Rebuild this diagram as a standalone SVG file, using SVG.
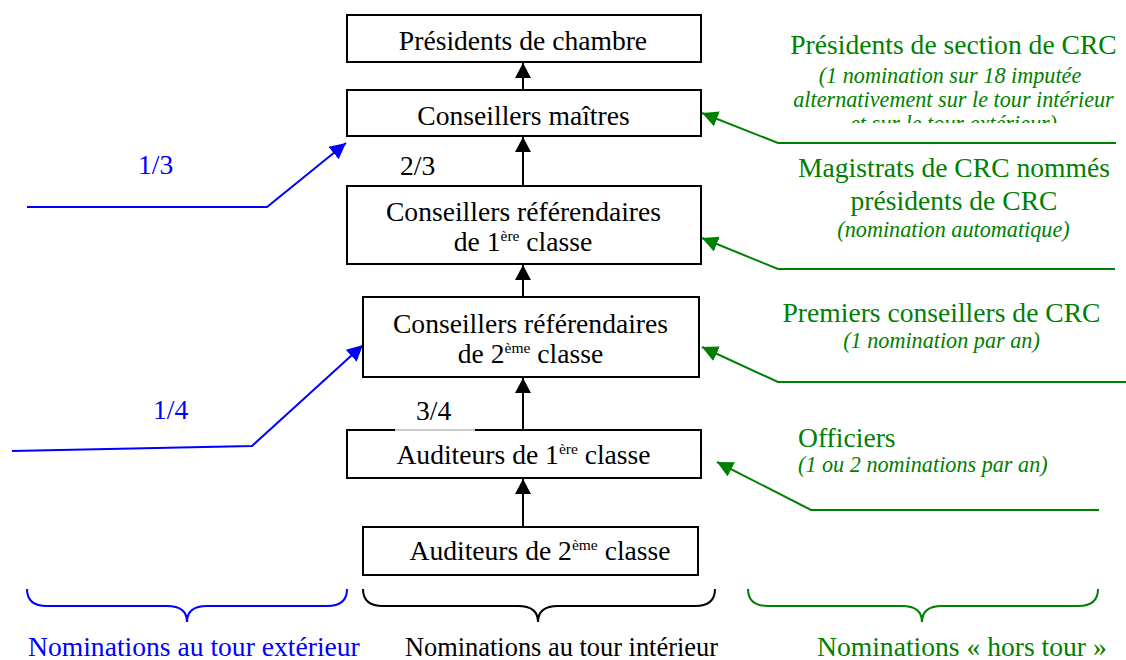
<svg xmlns="http://www.w3.org/2000/svg" width="1126" height="660" viewBox="0 0 1126 660">
<style>
text{font-family:"Liberation Serif","Times New Roman",serif;font-size:27.6px}
.k{fill:#000}
.b{fill:#0000ff}
.g{fill:#008000}
.it{font-style:italic;font-size:22.2px}
.sup{font-size:15.5px}
.box{fill:#fff;stroke:#000;stroke-width:2}
.ln{fill:none;stroke-width:2}
.mid{text-anchor:middle}
</style>
<defs>
<marker id="ak" markerUnits="userSpaceOnUse" markerWidth="16" markerHeight="16" refX="15" refY="8" orient="auto"><path d="M0,0 L15,8 L0,16 z" fill="#000"/></marker>
<marker id="ab" markerUnits="userSpaceOnUse" markerWidth="18" markerHeight="16" refX="16" refY="8" orient="auto"><path d="M0,0 L16,8 L0,16 z" fill="#0000ff"/></marker>
<marker id="ag" markerUnits="userSpaceOnUse" markerWidth="18" markerHeight="16" refX="16" refY="8" orient="auto"><path d="M0,0 L16,8 L0,16 z" fill="#008000"/></marker>
<clipPath id="clipTop"><rect x="700" y="0" width="426" height="123"/></clipPath>
</defs>

<g id="connectors">
  <g stroke="#000" class="ln">
    <line x1="523" y1="90" x2="523" y2="63" marker-end="url(#ak)"/>
    <line x1="523" y1="186" x2="523" y2="137" marker-end="url(#ak)"/>
    <line x1="523" y1="297" x2="523" y2="265" marker-end="url(#ak)"/>
    <line x1="523" y1="430" x2="523" y2="378" marker-end="url(#ak)"/>
    <line x1="523" y1="527" x2="523" y2="479" marker-end="url(#ak)"/>
  </g>
  <g stroke="#0000ff" class="ln">
    <polyline points="27,207 267,207 346,143" marker-end="url(#ab)"/>
    <polyline points="12,451 252,446 363,345" marker-end="url(#ab)"/>
  </g>
  <g stroke="#008000" class="ln">
    <polyline points="1116,143 778,143 702,113" marker-end="url(#ag)"/>
    <polyline points="1115,269 778,269 702,238" marker-end="url(#ag)"/>
    <polyline points="1126,382 778,382 702,347" marker-end="url(#ag)"/>
    <polyline points="1099,510 811,510 717,462" marker-end="url(#ag)"/>
  </g>
</g>

<g id="n-presidents-chambre">
  <rect class="box" x="347" y="15" width="354" height="47"/>
  <text class="k mid" x="523" y="50">Présidents de chambre</text>
</g>
<g id="n-conseillers-maitres">
  <rect class="box" x="347" y="90" width="354" height="46"/>
  <text class="k mid" x="523.5" y="125">Conseillers maîtres</text>
</g>
<g id="n-cr1">
  <rect class="box" x="347" y="186" width="354" height="78"/>
  <text class="k mid" x="523.5" y="221">Conseillers référendaires</text>
  <text class="k mid" x="523" y="251">de 1<tspan class="sup" dy="-10">ère</tspan><tspan dy="10"> classe</tspan></text>
</g>
<g id="n-cr2">
  <rect class="box" x="363" y="297" width="336" height="80"/>
  <text class="k mid" x="530.5" y="333">Conseillers référendaires</text>
  <text class="k mid" x="530.5" y="363">de 2<tspan class="sup" dy="-10">ème</tspan><tspan dy="10"> classe</tspan></text>
</g>
<g id="n-aud1">
  <rect class="box" x="347" y="430" width="354" height="48"/>
  <text class="k mid" x="523.5" y="464">Auditeurs de 1<tspan class="sup" dy="-10">ère</tspan><tspan dy="10"> classe</tspan></text>
</g>
<g id="n-aud2">
  <rect class="box" x="363" y="527" width="335" height="48"/>
  <text class="k mid" x="540" y="560">Auditeurs de 2<tspan class="sup" dy="-10">ème</tspan><tspan dy="10"> classe</tspan></text>
</g>

<g id="lbl-2-3"><text class="k" x="400" y="175">2/3</text></g>
<g id="lbl-3-4">
  <rect x="395" y="398" width="80" height="33" fill="#fff" fill-opacity="0.8"/>
  <text class="k" x="416" y="420">3/4</text>
</g>
<g id="lbl-1-3"><text class="b" x="138" y="174">1/3</text></g>
<g id="lbl-1-4"><text class="b" x="153" y="419">1/4</text></g>

<g id="n-presidents-section" clip-path="url(#clipTop)">
  <text class="g mid" x="953.5" y="54">Présidents de section de CRC</text>
  <text class="g mid it" x="950" y="83">(1 nomination sur 18 imputée</text>
  <text class="g mid it" x="953.5" y="107">alternativement sur le tour intérieur</text>
  <text class="g mid it" x="953.5" y="131">et sur le tour extérieur)</text>
</g>
<g id="n-magistrats">
  <text class="g mid" x="954" y="177">Magistrats de CRC nommés</text>
  <text class="g mid" x="954" y="210">présidents de CRC</text>
  <text class="g mid it" x="953.5" y="237">(nomination automatique)</text>
</g>
<g id="n-premiers">
  <text class="g mid" x="941.5" y="322">Premiers conseillers de CRC</text>
  <text class="g mid it" x="941.5" y="348">(1 nomination par an)</text>
</g>
<g id="n-officiers">
  <text class="g" x="798" y="447">Officiers</text>
  <text class="g it" x="798" y="472">(1 ou 2 nominations par an)</text>
</g>

<g id="brace-exterieur">
  <path class="ln" stroke="#0000ff" d="M27,589 Q27,606 47,606 L167,606 Q187,606 187,622 Q187,606 207,606 L327,606 Q347,606 347,589"/>
  <text class="b" x="28" y="656">Nominations au tour extérieur</text>
</g>
<g id="brace-interieur">
  <path class="ln" stroke="#000" d="M363,589 Q363,606 383,606 L518,606 Q538,606 538,622 Q538,606 558,606 L695,606 Q715,606 715,589"/>
  <text class="k" x="405" y="656" style="font-size:26.4px">Nominations au tour intérieur</text>
</g>
<g id="brace-hors-tour">
  <path class="ln" stroke="#008000" d="M748,589 Q748,606 768,606 L902,606 Q922,606 922,622 Q922,606 942,606 L1078,606 Q1098,606 1098,589"/>
  <text class="g" x="817" y="656">Nominations « hors tour »</text>
</g>
</svg>
